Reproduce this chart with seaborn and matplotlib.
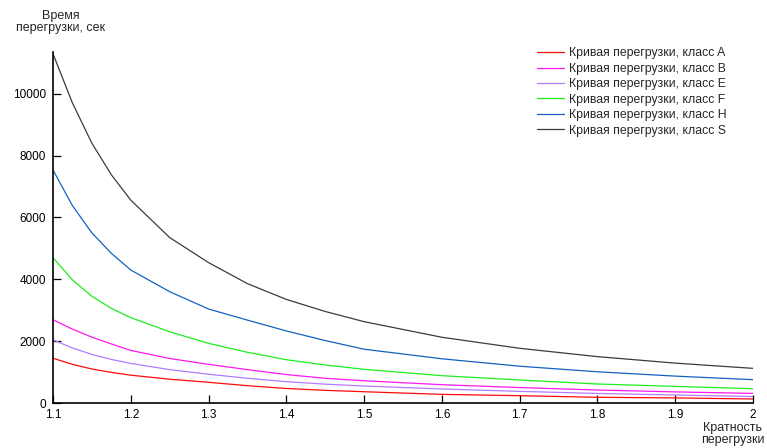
import numpy as np
import pandas as pd
import matplotlib
matplotlib.use("Agg")
import matplotlib.pyplot as plt
import seaborn as sns

# overload multiple (x) and overload time in seconds
ratio = [1.1, 1.125, 1.15, 1.175, 1.2, 1.25, 1.3, 1.35, 1.4, 1.45, 1.5, 1.6, 1.7, 1.8, 1.9, 2.0]
class_a = [1449, 1250, 1100, 990, 900, 770, 670, 560, 470, 410, 365, 280, 237, 185, 165, 130]
class_b = [2692, 2390, 2130, 1910, 1700, 1440, 1250, 1080, 920, 800, 720, 593, 500, 420, 360, 311]
class_e = [2043, 1780, 1570, 1410, 1280, 1080, 930, 800, 690, 610, 550, 454, 376, 310, 260, 210]
class_f = [4700, 3980, 3450, 3060, 2760, 2303, 1930, 1640, 1400, 1230, 1090, 884, 745, 615, 538, 463]
class_h = [7535, 6380, 5500, 4840, 4300, 3600, 3040, 2680, 2330, 2020, 1740, 1430, 1190, 1010, 870, 755]
class_s = [11290, 9700, 8400, 7380, 6560, 5350, 4540, 3860, 3350, 2960, 2630, 2126, 1769, 1500, 1290, 1121]

labels = ["Кривая перегрузки, класс A", "Кривая перегрузки, класс B",
          "Кривая перегрузки, класс E", "Кривая перегрузки, класс F",
          "Кривая перегрузки, класс H", "Кривая перегрузки, класс S"]
colors = ["#ff0a0a", "#ff18f0", "#b47aff", "#1eee1e", "#1262c0", "#3c3c3c"]

series = [class_a, class_b, class_e, class_f, class_h, class_s]
df = pd.concat([pd.DataFrame({"x": ratio, "t": s, "curve": lab})
                for s, lab in zip(series, labels)], ignore_index=True)

sns.set_style("white")
plt.rcParams["font.family"] = ["Liberation Sans", "DejaVu Sans"]
plt.rcParams["font.size"] = 8.5

fig = plt.figure(figsize=(7.67, 4.48), dpi=100)
ax = fig.add_axes([0.0691, 0.1004, 0.9126, 0.7836])

sns.lineplot(data=df, x="x", y="t", hue="curve", hue_order=labels,
             palette=dict(zip(labels, colors)), linewidth=0.9, ax=ax)

ax.set_xlim(1.1, 2.0)
ax.set_ylim(0, 11350)
ax.set_xticks([1.1, 1.2, 1.3, 1.4, 1.5, 1.6, 1.7, 1.8, 1.9, 2.0])
ax.set_xticklabels(["1.1", "1.2", "1.3", "1.4", "1.5", "1.6", "1.7", "1.8", "1.9", "2"])
ax.set_yticks([0, 2000, 4000, 6000, 8000, 10000])
ax.set_xlabel("")
ax.set_ylabel("")

for side in ["top", "right"]:
    ax.spines[side].set_visible(False)
for side in ["left", "bottom"]:
    ax.spines[side].set_color("black")
    ax.spines[side].set_linewidth(1.2)
ax.tick_params(axis="both", direction="in", length=5.5, width=0.9, colors="black",
               labelsize=8.5, bottom=True, left=True)
ax.tick_params(axis="x", pad=4)
ax.tick_params(axis="y", pad=5)

leg = ax.legend(loc="upper left", bbox_to_anchor=(0.691, 1.013), frameon=False,
                borderaxespad=0, borderpad=0, fontsize=8.8, handlelength=2.2,
                handletextpad=0.45, labelspacing=0.28)

fig.text(0.079, 0.978, "Время\nперегрузки, сек", ha="center", va="top",
         fontsize=9, linespacing=1.05)
fig.text(0.955, 0.031, "Кратность\nперегрузки", ha="center", va="center",
         fontsize=9, linespacing=1.05)

fig.savefig("out.png", dpi=100)
